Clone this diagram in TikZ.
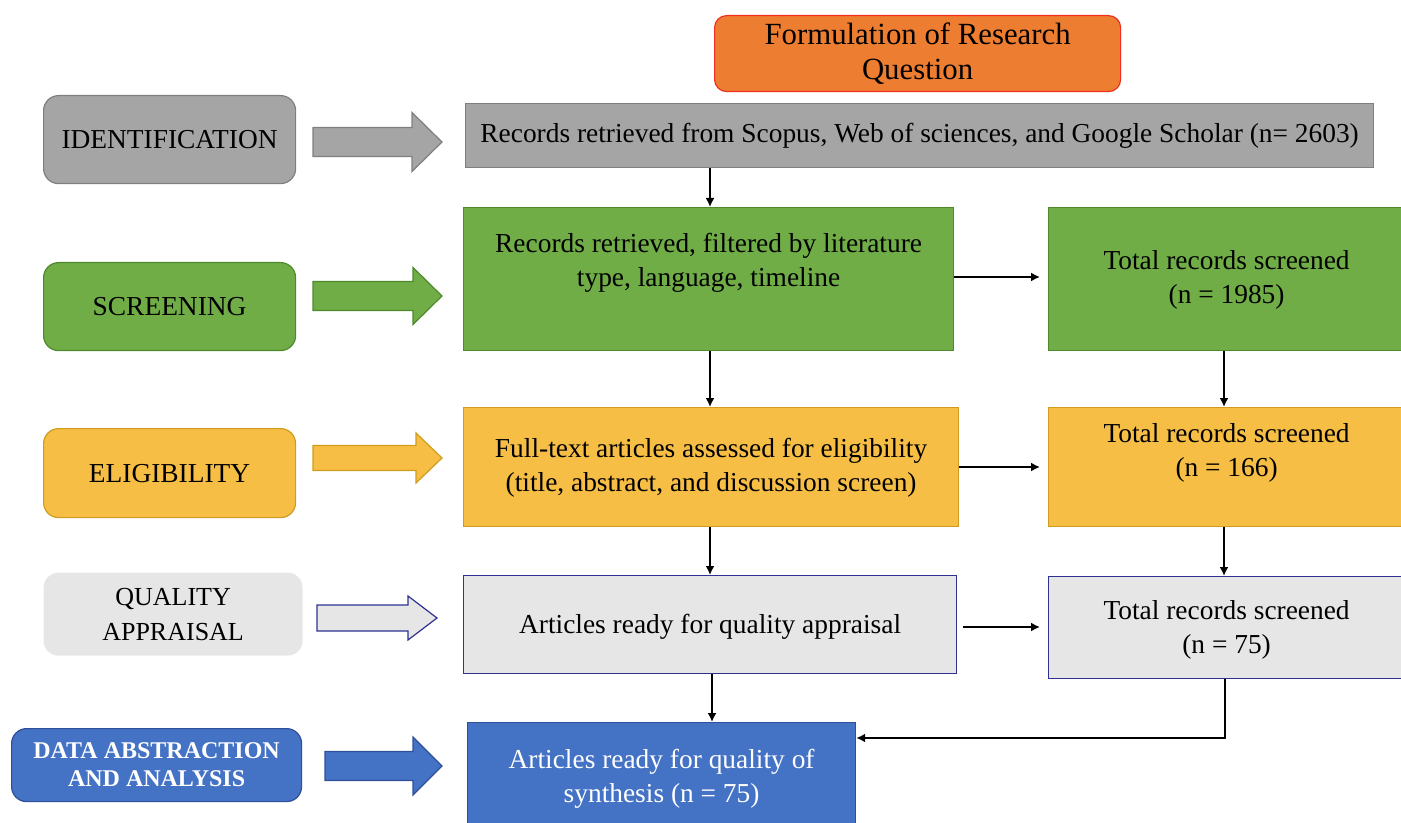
\documentclass[tikz,border=0pt]{standalone}
\usepackage{fontspec}
\setmainfont{Liberation Serif}
\usetikzlibrary{arrows.meta}

\definecolor{orangeF}{HTML}{ED7D31}
\definecolor{orangeD}{HTML}{F0301E}
\definecolor{grayF}{HTML}{A5A5A5}
\definecolor{grayD}{HTML}{7F7F7F}
\definecolor{greenF}{HTML}{70AD47}
\definecolor{greenD}{HTML}{4E8A2C}
\definecolor{yellowF}{HTML}{F6BE45}
\definecolor{yellowD}{HTML}{D09C1E}
\definecolor{lightF}{HTML}{E7E6E6}
\definecolor{navyD}{HTML}{2E3192}
\definecolor{blueF}{HTML}{4472C4}
\definecolor{blueD}{HTML}{2F4F9A}

% a box given by its top-left and bottom-right corners (pixel grid, y downwards)
\newcommand\flowbox[6]{%
  \node[#6, minimum width={(#4-#2)*0.5pt}, minimum height={(#5-#3)*0.5pt}] (#1) at (#2,#3) {};}
% a block arrow: start x, head-base x, tip x, centre y, shaft half-height, head half-height, style
\newcommand\blockarrow[7]{%
  \draw[#7] ({#1},{#4-#5}) -- ({#2},{#4-#5}) -- ({#2},{#4-#6}) -- ({#3},{#4})
    -- ({#2},{#4+#6}) -- ({#2},{#4+#5}) -- ({#1},{#4+#5}) -- cycle;}

\begin{document}
\begin{tikzpicture}[x=0.5pt,y=-0.5pt,
  box/.style={draw, line width=0.6pt, inner sep=0pt, anchor=north west},
  stage/.style={box, rounded corners=7.5pt},
  txt/.style={font=\fontsize{13.7}{17}\selectfont, align=center, inner sep=0pt},
  flow/.style={line width=1pt, -{Latex[length=4.5pt,width=4.5pt]}},
  barrow/.style={line width=0.6pt}]
\useasboundingbox (0,0) rectangle (1401,823);

% ---- title ----
\flowbox{form}{714}{15}{1120}{91}{box, rounded corners=6pt, fill=orangeF, draw=orangeD}
\node[txt, font=\fontsize{15.4}{17.5}\selectfont] (form-t) at (form.center)
  {Formulation of Research\\Question};

% ---- stage labels ----
\flowbox{ident}{43}{95}{295}{183}{stage, fill=grayF, draw=grayD}
\node[txt] (ident-t) at (ident.center) {IDENTIFICATION};
\flowbox{screen}{43}{262}{295}{350}{stage, fill=greenF, draw=greenD}
\node[txt] (screen-t) at (screen.center) {SCREENING};
\flowbox{elig}{43}{428}{295}{517}{stage, fill=yellowF, draw=yellowD}
\node[txt] (elig-t) at (elig.center) {ELIGIBILITY};
\flowbox{qual}{43}{572}{302}{655}{stage, fill=lightF, draw=none}
\node[txt, font=\fontsize{13}{17.5}\selectfont] (qual-t) at (qual.center) {QUALITY\\APPRAISAL};
\flowbox{data}{11}{728}{301}{801}{stage, fill=blueF, draw=blueD}
\node[txt, font=\fontsize{12}{14}\selectfont\bfseries, text=white] (data-t) at (data.center)
  {DATA ABSTRACTION\\AND ANALYSIS};

% ---- block arrows ----
\blockarrow{313}{412}{442}{142}{14.5}{29.5}{barrow, fill=grayF, draw=grayD}
\blockarrow{313}{413}{442}{296}{14.5}{28.5}{barrow, fill=greenF, draw=greenD}
\blockarrow{313}{416}{442}{458}{12.5}{25}{barrow, fill=yellowF, draw=yellowD}
\blockarrow{317}{408}{437}{618}{13}{22}{barrow, fill=lightF, draw=navyD}
\blockarrow{325}{413}{442}{766}{14.5}{29}{barrow, fill=blueF, draw=blueD}

% ---- records ----
\flowbox{rec}{465}{103}{1373}{167}{box, fill=grayF, draw=grayD}
\node[txt] (rec-t) at (rec.center)
  {Records retrieved from Scopus, Web of sciences, and Google Scholar (n= 2603)};

\flowbox{filt}{463}{207}{953}{350}{box, fill=greenF, draw=greenD}
\node[txt] (filt-t) at ([yshift=8pt]filt.center)
  {Records retrieved, filtered by literature\\type, language, timeline};
\flowbox{scr}{1048}{207}{1404}{350}{box, fill=greenF, draw=greenD}
\node[txt] (scr-t) at ([yshift=-0.5pt]scr.center) {Total records screened\\(n = 1985)};

\flowbox{full}{463}{407}{958}{526}{box, fill=yellowF, draw=yellowD}
\node[txt] (full-t) at ([yshift=-0.5pt]full.center)
  {Full-text articles assessed for eligibility\\(title, abstract, and discussion screen)};
\flowbox{tot}{1048}{407}{1404}{526}{box, fill=yellowF, draw=yellowD}
\node[txt] (tot-t) at ([yshift=7pt]tot.center) {Total records screened\\(n = 166)};

\flowbox{ready}{463}{575}{956}{673}{box, fill=lightF, draw=navyD}
\node[txt] (ready-t) at ([yshift=-1pt]ready.center) {Articles ready for quality appraisal};
\flowbox{qtot}{1048}{576}{1404}{678}{box, fill=lightF, draw=navyD}
\node[txt] (qtot-t) at ([yshift=-1pt]qtot.center) {Total records screened\\(n = 75)};

\flowbox{synth}{467}{722}{855}{834}{box, fill=blueF, draw=blueD}
\node[txt, text=white] (synth-t) at (synth.center) {Articles ready for quality of\\synthesis (n = 75)};

% ---- connectors ----
\draw[flow] (rec.south -| 710,0) -- (filt.north -| 710,0);
\draw[flow, shorten >=4pt] (filt.east |- 0,277) -- (scr.west |- 0,277);
\draw[flow] (filt.south -| 710,0) -- (full.north -| 710,0);
\draw[flow] (scr.south -| 1224,0) -- (tot.north -| 1224,0);
\draw[flow, shorten >=4pt] (full.east |- 0,467) -- (tot.west |- 0,467);
\draw[flow] (full.south -| 710,0) -- (ready.north -| 710,0);
\draw[flow] (tot.south -| 1224,0) -- (qtot.north -| 1224,0);
\draw[flow, shorten <=3pt, shorten >=4pt] (ready.east |- 0,627) -- (qtot.west |- 0,627);
\draw[flow] (ready.south -| 712,0) -- (synth.north -| 712,0);
\coordinate (bend) at (1225,738);
\draw[flow] (qtot.south -| bend) -- (bend) -- (synth.east |- bend);
\end{tikzpicture}
\end{document}
